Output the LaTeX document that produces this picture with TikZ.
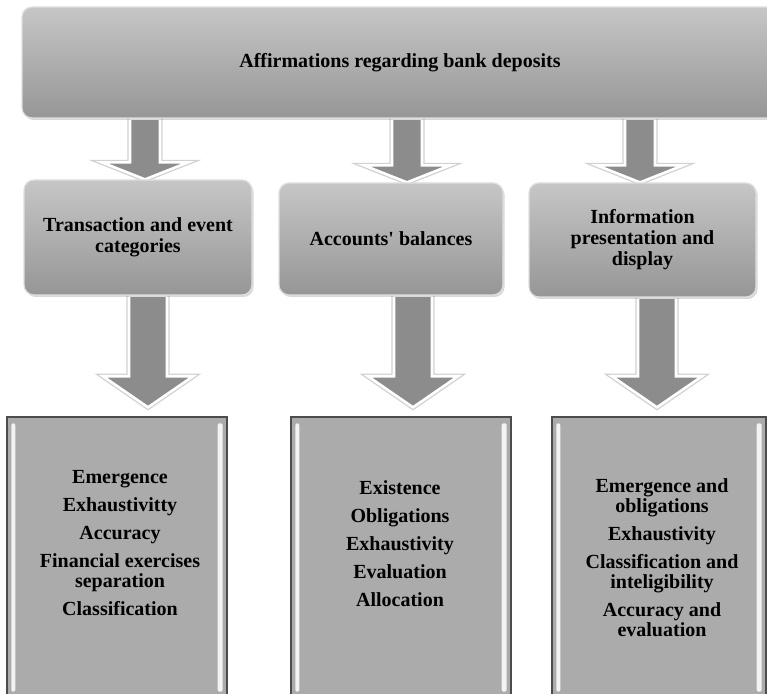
\documentclass[tikz,border=0pt]{standalone}
\usepackage{fontspec}
\setmainfont{Liberation Serif}
\usetikzlibrary{calc,shadows,backgrounds}
\definecolor{boxtop}{RGB}{198,198,198}
\definecolor{boxbot}{RGB}{150,150,150}
\definecolor{arrowgray}{RGB}{140,140,140}
\definecolor{lowgray}{RGB}{171,171,171}
\newcommand{\fatarrow}[5]{%
  \draw[fat] let \p1=(#1), \p2=(#2) in
    (\x1-#3,\y1) -- (\x1+#3,\y1) -- (\x1+#3,\y2+#5) -- (\x1+#4,\y2+#5)
    -- (\x1,\y2) -- (\x1-#4,\y2+#5) -- (\x1-#3,\y2+#5) -- cycle;}

\begin{document}
\begin{tikzpicture}
  [x=0.5pt, y=-0.5pt, font=\bfseries\fontsize{10}{10.5}\selectfont,
   roundbox/.style={rounded corners=5pt, top color=boxtop, bottom color=boxbot,
     draw=white!75!gray, line width=0.6pt, align=center, inner sep=0pt,
     drop shadow={shadow xshift=0.8pt, shadow yshift=-1pt, opacity=0.3}},
   lowbox/.style={fill=lowgray, draw=black!70, line width=0.7pt, inner sep=0pt,
     minimum width=110pt, minimum height=140.5pt},
   lowtext/.style={align=center, font=\bfseries\fontsize{10}{10}\selectfont},
   fat/.style={fill=arrowgray, draw=white, line width=1.3pt, line join=miter,
     preaction={draw=black!18, line width=2.6pt}}]
  \useasboundingbox (0,0) rectangle (767,694);
  \clip (0,0) rectangle (767,694);

  \node[roundbox, minimum width=378pt, minimum height=55.5pt] (top) at (400,62.5)
    {Affirmations regarding bank deposits};

  \node[roundbox, minimum width=114pt, minimum height=57.5pt] (t1) at (138,237.5)
    {Transaction and event\\categories};
  \node[roundbox, minimum width=112pt, minimum height=56pt] (t2) at (391,239)
    {Accounts\textquotesingle\ balances};
  \node[roundbox, minimum width=113.5pt, minimum height=57pt] (t3) at (642.5,240)
    {Information\\presentation and\\display};

  \node[lowbox] (b1) at (117,557.5) {};
  \node[lowbox] (b2) at (401,557.5) {};
  \node[lowbox, minimum width=107pt] (b3) at (659,557.5) {};
  \foreach \b in {b1,b2,b3} {
    \fill[white!85!lowgray, rounded corners=1pt]
      ($(\b.north west)+(5,7)$) rectangle ($(\b.south west)+(9,-7)$);
    \fill[white!85!lowgray, rounded corners=1pt]
      ($(\b.north east)+(-10,7)$) rectangle ($(\b.south east)+(-5,-7)$);
  }

  \node[lowtext] (l1) at (120,543.5)
    {Emergence\\[4pt]Exhaustivitty\\[4pt]Accuracy\\[4pt]Financial exercises\\separation\\[4pt]Classification};
  \node[lowtext] (l2) at (400,543.5)
    {Existence\\[4pt]Obligations\\[4pt]Exhaustivity\\[4pt]Evaluation\\[4pt]Allocation};
  \node[lowtext] (l3) at (662,557.5)
    {Emergence and\\obligations\\[4pt]Exhaustivity\\[4pt]Classification and\\inteligibility\\[4pt]Accuracy and\\evaluation};

  \coordinate (c1) at (145,0);
  \coordinate (c2) at (407,0);
  \coordinate (c3) at (640,0);
  \coordinate (d1) at (148,0);
  \coordinate (d2) at (413,0);
  \coordinate (d3) at (657,0);

  \begin{scope}[on background layer]
    \fatarrow{top.south -| c1}{t1.north -| c1}{7.5pt}{21.5pt}{8.5pt}
    \fatarrow{top.south -| c2}{t2.north -| c2}{7.5pt}{21.5pt}{8.5pt}
    \fatarrow{top.south -| c3}{t3.north -| c3}{7.5pt}{21.5pt}{8.5pt}
    \fatarrow{t1.south -| d1}{$(b1.north -| d1)+(0,-9)$}{9.5pt}{22.5pt}{15.5pt}
    \fatarrow{t2.south -| d2}{$(b2.north -| d2)+(0,-9)$}{9.5pt}{22.5pt}{15.5pt}
    \fatarrow{t3.south -| d3}{$(b3.north -| d3)+(0,-9)$}{9.5pt}{22.5pt}{15.5pt}
  \end{scope}
\end{tikzpicture}
\end{document}
